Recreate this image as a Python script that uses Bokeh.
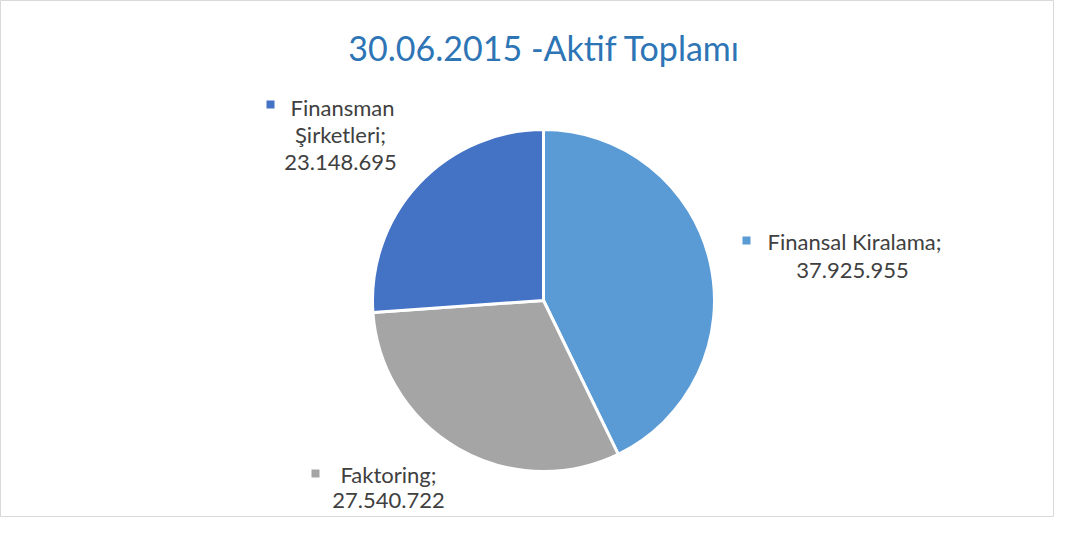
import numpy as np
from bokeh.plotting import figure
from bokeh.models import Range1d, ColumnDataSource
from bokeh.core.properties import value
from bokeh.embed import file_html
from bokeh.resources import INLINE

title = "30.06.2015 -Aktif Toplamı"
categories = ["Finansal Kiralama", "Faktoring", "Finansman Şirketleri"]
values = [37925955, 27540722, 23148695]
value_labels = ["37.925.955", "27.540.722", "23.148.695"]
colors = ["#5B9BD5", "#A5A5A5", "#4472C4"]

W, H = 1054, 517
p = figure(width=W, height=H, output_backend="svg", toolbar_location=None,
           x_range=Range1d(0, W), y_range=Range1d(533 - H, 533),
           min_border=0)
p.axis.visible = False
p.grid.visible = False
p.outline_line_color = "#D9D9D9"
p.outline_line_width = 1
p.background_fill_color = "white"
p.border_fill_color = "white"

vals = np.array(values, dtype=float)
frac = vals / vals.sum()
ang = frac * 2 * np.pi
start = np.pi / 2 - np.concatenate([[0], np.cumsum(ang)[:-1]])
end = start - ang

cx, cy, r = 543, 533 - 300, 171
src = ColumnDataSource(dict(start=end, end=start, color=colors))
p.wedge(x=cx, y=cy, radius=r, start_angle="start", end_angle="end",
        fill_color="color", line_color="white", line_width=3, source=src)

FONT = "Lato"
p.text(x=[544], y=[533 - 47], text=[title], text_font=value(FONT), text_font_size="34px",
       text_color="#2E75B6", text_align="center", text_baseline="middle")

lab_color = "#404040"
fs = "22px"
def lines(xs, ys, texts):
    p.text(x=xs, y=[533 - v for v in ys], text=texts, text_font=value(FONT), text_font_size=fs,
           text_color=lab_color, text_align="center", text_baseline="middle")

def square(x, y, c):
    p.scatter(x=[x], y=[533 - y], marker="square", size=8, fill_color=c, line_color=None)

# Finansal Kiralama
square(746, 240, colors[0])
lines([854, 852], [241, 270], [categories[0] + ";", value_labels[0]])
# Faktoring
square(315, 473, colors[1])
lines([388, 388], [474, 500], [categories[1] + ";", value_labels[1]])
# Finansman
square(270, 104, colors[2])
fin = categories[2].split(" ")
lines([342, 340, 340], [107, 134, 162], [fin[0], fin[1] + ";", value_labels[2]])

open("out.html", "w").write(file_html(p, INLINE))
